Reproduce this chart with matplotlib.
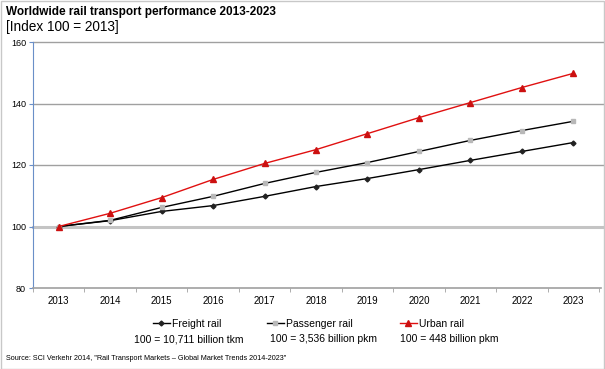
import matplotlib.pyplot as plt
from matplotlib.lines import Line2D
import matplotlib.patches as mpatches

plt.rcParams['font.family'] = ['Liberation Sans', 'DejaVu Sans']

years = ['2013', '2014', '2015', '2016', '2017', '2018', '2019', '2020', '2021', '2022', '2023']
freight = [100, 101.9, 104.9, 106.8, 109.8, 113.0, 115.6, 118.5, 121.5, 124.4, 127.3]
passenger = [100, 102.0, 106.2, 109.8, 114.0, 117.6, 120.8, 124.4, 128.0, 131.2, 134.2]
urban = [100, 104.3, 109.4, 115.3, 120.5, 125.0, 130.2, 135.4, 140.3, 145.2, 149.8]
labels = ['Freight rail', 'Passenger rail', 'Urban rail']
bases = ['100 = 10,711 billion tkm', '100 = 3,536 billion pkm', '100 = 448 billion pkm']

W, H = 605, 369
fig = plt.figure(figsize=(W / 100, H / 100), dpi=100)
ax = fig.add_axes([33 / W, 1 - 288 / H, 566 / W, 246 / H])

x = list(range(len(years)))
ax.plot(x, freight, color='black', lw=1.0, marker='D', ms=2.5, mfc='#222222', mec='#222222', zorder=4)
ax.plot(x, passenger, color='black', lw=1.0, marker='s', ms=3.5, mfc='#b8b8b8', mec='#b8b8b8', zorder=4)
ax.plot(x, urban, color='#e01010', lw=1.0, marker='^', ms=4, mfc='#cc1010', mec='#cc1010', zorder=5)

# grid (extends slightly past the last category, like the original)
for v in [120, 140, 160]:
    ax.axhline(v, xmax=1.007, color='#a0a0a0', lw=1.0, zorder=1, clip_on=False)
ax.axhline(100, xmax=1.007, color='#c4c4c4', lw=2.2, zorder=1, clip_on=False)

ax.set_xlim(-0.5, len(years) - 0.5)
ax.set_ylim(80, 160)
ax.set_yticks([80, 100, 120, 140, 160])
ax.set_xticks(x)
ax.set_xticklabels(years)
ax.set_xticks([i - 0.5 for i in range(len(years) + 1)], minor=True)
ax.tick_params(axis='x', which='major', length=0, labelsize=7, pad=6)
ax.tick_params(axis='x', which='minor', length=3, color='#a0a0a0', direction='out')
ax.tick_params(axis='y', length=3, color='#6a8fc8', labelsize=6.5, pad=2, direction='out')

for s in ['top', 'right']:
    ax.spines[s].set_visible(False)
ax.spines['left'].set_color('#6a8fc8')
ax.spines['bottom'].set_color('#a0a0a0')
ax.spines['bottom'].set_linewidth(1.2)
ax.spines['bottom'].set_bounds(-0.5, len(years) - 0.46)

# title and subtitle
fig.text(6 / W, 1 - 12 / H, 'Worldwide rail transport performance 2013-2023', fontsize=8.5,
         fontweight='bold', va='center', ha='left')
fig.text(6 / W, 1 - 27 / H, '[Index 100 = 2013]', fontsize=9.8, va='center', ha='left')

# legend
handles = [
    Line2D([], [], color='black', lw=1.0, marker='D', ms=2.5, mfc='#222222', mec='#222222'),
    Line2D([], [], color='black', lw=1.0, marker='s', ms=3.5, mfc='#b8b8b8', mec='#b8b8b8'),
    Line2D([], [], color='#e01010', lw=1.0, marker='^', ms=4, mfc='#cc1010', mec='#cc1010'),
]
leg_x = [155, 269, 402]
for h, lab, lx in zip(handles, labels, leg_x):
    fig.legend([h], [lab], loc='center left', bbox_to_anchor=(lx / W - 0.012, 1 - 324 / H),
               frameon=False, fontsize=7.5, handlelength=1.6, handletextpad=0.2, borderpad=0)
for b, bx in zip(bases, [189, 323, 449]):
    fig.text(bx / W, 1 - 339 / H, b, fontsize=7.5, ha='center', va='center')

fig.text(6 / W, 1 - 358 / H, 'Source: SCI Verkehr 2014, "Rail Transport Markets \u2013 Global Market Trends 2014-2023"',
         fontsize=5.2, ha='left', va='center')

# outer frame
fig.patches.append(mpatches.Rectangle((0.5 / W, 0.5 / H), 1 - 1.5 / W, 1 - 1.5 / H, transform=fig.transFigure,
                                      fill=False, edgecolor='#c8c8c8', lw=1.0))

fig.savefig('out.png', dpi=100)
